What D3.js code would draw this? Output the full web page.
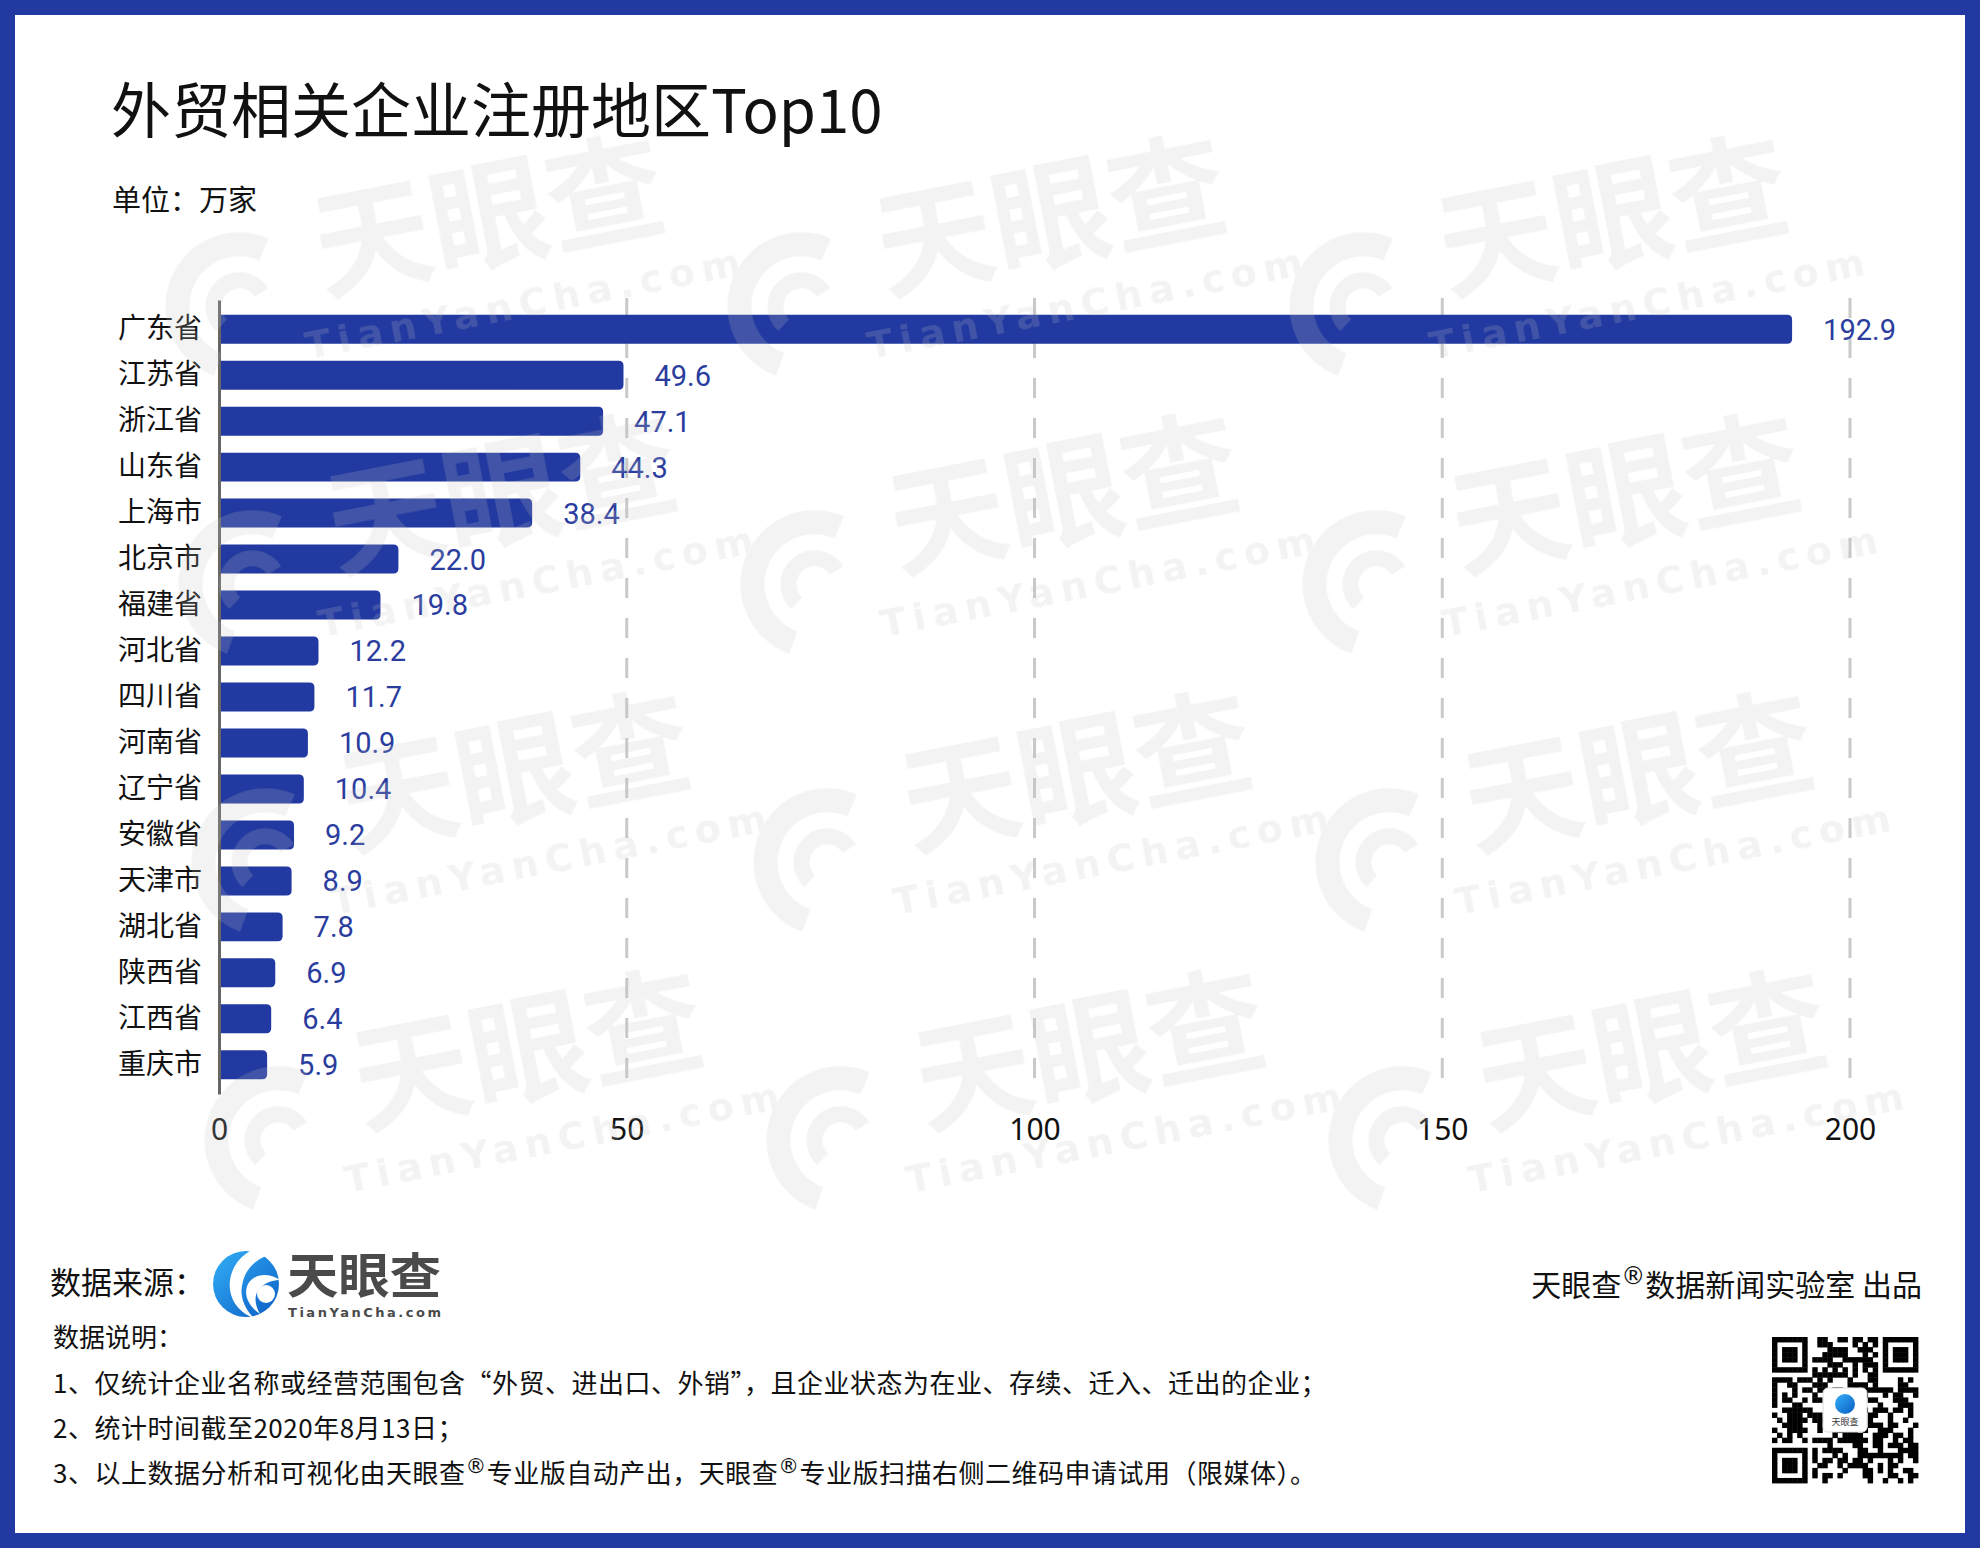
<!DOCTYPE html>
<html><head><meta charset="utf-8">
<script src="https://cdn.jsdelivr.net/npm/d3@7/dist/d3.min.js"></script>
<style>body{margin:0;background:#fff}svg{display:block}</style>
</head><body>
<svg id="c" width="1980" height="1548"></svg>
<script>
// ---------- data ----------
const categories = ["广东省","江苏省","浙江省","山东省","上海市","北京市","福建省","河北省","四川省","河南省","辽宁省","安徽省","天津市","湖北省","陕西省","江西省","重庆市"];
const values = [192.9,49.6,47.1,44.3,38.4,22.0,19.8,12.2,11.7,10.9,10.4,9.2,8.9,7.8,6.9,6.4,5.9];
const xTicks = [0,50,100,150,200];
const titleText = "外贸相关企业注册地区Top10";
const unitText = "单位：万家";
const sourceLabel = "数据来源：";
const creditText = "天眼查®数据新闻实验室 出品";
const notesTitle = "数据说明：";
const notes = [
  "1、仅统计企业名称或经营范围包含“外贸、进出口、外销”，且企业状态为在业、存续、迁入、迁出的企业；",
  "2、统计时间截至2020年8月13日；",
  "3、以上数据分析和可视化由天眼查®专业版自动产出，天眼查®专业版扫描右侧二维码申请试用（限媒体）。"
];

// ---------- setup ----------
const W = 1980, H = 1548;
const BLUE = "#2139a0";
const CJK = "'Noto Sans CJK SC','Noto Sans',sans-serif";
const svg = d3.select("#c");

svg.append("rect").attr("width", W).attr("height", H).attr("fill", BLUE);
svg.append("rect").attr("x", 15).attr("y", 15).attr("width", W - 30).attr("height", H - 30).attr("fill", "#fff");

// rich text helper: raised ® without empty tspans
function richText(sel, str, size) {
  const parts = str.split("®");
  const up = size * 0.4;
  parts.forEach((p, i) => {
    if (p) {
      const t = sel.append("tspan").text(p);
      if (i > 0) t.attr("dy", up);
    }
    if (i < parts.length - 1) {
      sel.append("tspan").attr("font-family", "'DejaVu Sans',sans-serif")
        .attr("font-size", size * 0.8).attr("dy", -up).text("®");
    }
  });
}

// title & unit
svg.append("text").attr("x", 111).attr("y", 133).attr("font-family", CJK)
  .attr("font-size", 60).attr("fill", "#111").text(titleText);
svg.append("text").attr("x", 112).attr("y", 211).attr("font-family", CJK)
  .attr("font-size", 29).attr("fill", "#111").text(unitText);

// ---------- scales ----------
const x = d3.scaleLinear().domain([0, 200]).range([219, 1850]);
const y = d3.scaleBand().domain(categories).range([300, 1094]).paddingInner(0.37).paddingOuter(0.32);

const g = svg.append("g");

// gridlines
g.append("g").selectAll("line").data(xTicks.filter(d => d > 0)).join("line")
  .attr("x1", d => x(d)).attr("x2", d => x(d))
  .attr("y1", y.range()[0] - 2).attr("y2", y.range()[1])
  .attr("stroke", "#c9c9c9").attr("stroke-width", 3).attr("stroke-dasharray", "20,20");

// bars with rounded right corners
const data = categories.map((c, i) => ({c, v: values[i]}));
function barPath(d) {
  const x0 = x(0), x1 = x(d.v), y0 = y(d.c), h = y.bandwidth(), r = 5;
  return `M${x0},${y0}H${x1 - r}Q${x1},${y0} ${x1},${y0 + r}V${y0 + h - r}Q${x1},${y0 + h} ${x1 - r},${y0 + h}H${x0}Z`;
}
g.append("g").selectAll("path").data(data).join("path")
  .attr("d", barPath).attr("fill", BLUE);

// value labels
g.append("g").selectAll("text").data(data).join("text")
  .attr("x", d => x(d.v) + 31).attr("y", d => y(d.c) + y.bandwidth() / 2)
  .attr("dy", "0.36em")
  .attr("font-family", "Roboto,'Noto Sans',sans-serif").attr("font-size", 29)
  .attr("fill", "#2a3d9e").text(d => d.v.toFixed(1));

// y axis
const yAx = g.append("g").attr("transform", `translate(${x(0)},0)`)
  .call(d3.axisLeft(y).tickSize(0).tickPadding(17));
yAx.select(".domain").attr("stroke", "#666").attr("stroke-width", 3);
yAx.selectAll("text").attr("font-family", CJK).attr("font-size", 28).attr("fill", "#111");

// x axis
const xAx = g.append("g").attr("transform", `translate(0,${y.range()[1]})`)
  .call(d3.axisBottom(x).tickValues(xTicks).tickSize(0).tickPadding(25));
xAx.select(".domain").remove();
xAx.selectAll("text").attr("font-family", "'Noto Sans',sans-serif").attr("font-size", 30).attr("fill", "#111");

// ---------- watermarks ----------
const wm = svg.append("g").attr("fill", "#c4c4c4").attr("opacity", 0.2).attr("pointer-events", "none");
for (let r = 0; r < 4; r++) {
  for (let c = 0; c < 3; c++) {
    const cx = 489 + c * 562 + r * 13, cy = 217 + r * 278;
    const u = wm.append("g").attr("transform", `translate(${cx},${cy}) rotate(-11)`);
    u.append("text").attr("text-anchor", "middle").attr("dy", "0.36em")
      .attr("font-family", CJK).attr("font-weight", 700).attr("font-size", 118).text("天眼查");
    u.append("text").attr("x", 20).attr("y", 105).attr("text-anchor", "middle")
      .attr("font-family", "'DejaVu Sans',sans-serif").attr("font-weight", 700)
      .attr("font-size", 38).attr("letter-spacing", 7).text("TianYanCha.com");
    const arc = d3.arc();
    u.append("path").attr("transform", "translate(-262,40)")
      .attr("d", arc({innerRadius: 50, outerRadius: 74, startAngle: -2.6, endAngle: 0.6}));
    u.append("path").attr("transform", "translate(-262,40)")
      .attr("d", arc({innerRadius: 18, outerRadius: 34, startAngle: -2.2, endAngle: 1.2}));
  }
}

// ---------- footer ----------
svg.append("text").attr("x", 50).attr("y", 1294).attr("font-family", CJK)
  .attr("font-size", 31).attr("fill", "#111").text(sourceLabel);

// logo icon
const defs = svg.append("defs");
const lg = defs.append("linearGradient").attr("id", "lg").attr("x1", 0).attr("y1", 0).attr("x2", 1).attr("y2", 1);
lg.append("stop").attr("offset", 0).attr("stop-color", "#33b0f7");
lg.append("stop").attr("offset", 1).attr("stop-color", "#0b5dc4");
const logo = svg.append("g").attr("transform", "translate(246,1284)");
logo.append("circle").attr("r", 33).attr("fill", "url(#lg)");
logo.append("path").attr("fill", "#fff")
  .attr("d", "M6,-34 C-10,-26 -18,-10 -16,6 C-14,20 -4,30 8,34 C-2,24 -6,12 -4,2 C-2,-12 6,-22 20,-28 Z");
logo.append("path").attr("fill", "#fff")
  .attr("d", "M34,-4 C22,-12 8,-10 2,0 C-3,10 2,22 14,30 C8,20 8,10 14,4 C20,-2 28,-4 34,-4 Z");
logo.append("circle").attr("r", 9).attr("cx", 20).attr("cy", 10).attr("fill", "#fff");
svg.append("text").attr("x", 287).attr("y", 1293).attr("font-family", CJK).attr("font-weight", 700)
  .attr("font-size", 48).attr("fill", "#4a4a4a").attr("textLength", 154).attr("lengthAdjust", "spacingAndGlyphs").text("天眼查");
svg.append("text").attr("x", 288).attr("y", 1317).attr("font-family", "'DejaVu Sans',sans-serif").attr("font-weight", 700)
  .attr("font-size", 13).attr("fill", "#4a4a4a").attr("textLength", 153).text("TianYanCha.com");

// notes
svg.append("text").attr("x", 53).attr("y", 1347).attr("font-family", CJK)
  .attr("font-size", 26).attr("fill", "#111").text(notesTitle);
notes.forEach((n, i) => {
  const t = svg.append("text").attr("x", 53).attr("y", 1393 + i * 45).attr("font-family", CJK)
    .attr("font-size", 26).attr("letter-spacing", 0.5).attr("fill", "#111");
  richText(t, n, 26);
});

// credit
const cr = svg.append("text").attr("x", 1922).attr("y", 1296).attr("text-anchor", "end")
  .attr("font-family", CJK).attr("font-size", 30).attr("fill", "#111");
richText(cr, creditText, 30);

// QR-like code (decorative, deterministic)
const N = 29, qx = 1772, qy = 1337, qs = 146, m = qs / N;
function h(i, j) { let s = (i * 73856093) ^ (j * 19349663) ^ 0x5bd1e995; s = Math.imul(s ^ (s >>> 13), 0x5bd1e995); return ((s ^ (s >>> 15)) >>> 0) % 100 < 50; }
const qr = svg.append("g");
const cells = [];
function inFinder(i, j) { return (i < 8 && j < 8) || (i > N - 9 && j < 8) || (i < 8 && j > N - 9); }
for (let i = 0; i < N; i++) for (let j = 0; j < N; j++) {
  let on;
  if (inFinder(i, j)) {
    const fi = i < 8 ? i : i - (N - 7), fj = j < 8 ? j : j - (N - 7);
    if (fi < 0 || fj < 0 || fi > 6 || fj > 6) on = false;
    else { const d = Math.max(Math.abs(fi - 3), Math.abs(fj - 3)); on = d !== 2; }
  } else if (i === 6) on = j % 2 === 0;
  else if (j === 6) on = i % 2 === 0;
  else on = h(i, j);
  if (on) cells.push([i, j]);
}
qr.selectAll("rect").data(cells).join("rect")
  .attr("x", d => qx + d[0] * m).attr("y", d => qy + d[1] * m)
  .attr("width", m + 0.4).attr("height", m + 0.4).attr("fill", "#000");
qr.append("rect").attr("x", qx + qs / 2 - 22).attr("y", qy + qs / 2 - 22).attr("width", 44).attr("height", 44)
  .attr("rx", 5).attr("fill", "#fff").attr("stroke", "#ddd");
qr.append("circle").attr("cx", qx + qs / 2).attr("cy", qy + qs / 2 - 6).attr("r", 10).attr("fill", "url(#lg)");
qr.append("text").attr("x", qx + qs / 2).attr("y", qy + qs / 2 + 15).attr("text-anchor", "middle")
  .attr("font-family", CJK).attr("font-size", 9).attr("fill", "#333").text("天眼查");
</script>
</body></html>
